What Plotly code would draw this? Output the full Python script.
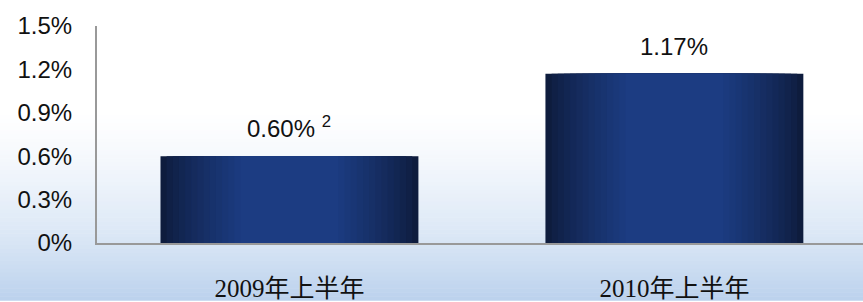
import plotly.graph_objects as go

categories = ["2009年上半年", "2010年上半年"]
values = [0.60, 1.17]
value_labels = ["0.60% <sup>2</sup>", "1.17%"]
tick_vals = [0, 0.3, 0.6, 0.9, 1.2, 1.5]
tick_text = ["0%", "0.3%", "0.6%", "0.9%", "1.2%", "1.5%"]

W, H = 863, 302
ML, MR, MT, MB = 97, 0, 26, 56

def lerp(c1, c2, t):
    return tuple(round(a + (b - a) * t) for a, b in zip(c1, c2))

def hexc(c):
    return "#%02x%02x%02x" % c

fig = go.Figure()

# bar gradient: overlaid bars of decreasing width
dark = (14, 28, 61)
light = (28, 60, 130)
n = 14
full_w = 0.67
for i in range(n):
    t = i / (n - 1)
    w = full_w * (1 - 0.62 * t)
    col = lerp(dark, light, t ** 0.8)
    fig.add_trace(go.Bar(
        x=categories, y=values, width=w,
        marker=dict(color=hexc(col), line=dict(width=0)),
        hoverinfo="skip", showlegend=False,
    ))

# background gradient strips
plot_h = H - MT - MB
plot_w = W - ML - MR
def py(p):
    return (H - MB - p) / plot_h

def bg_color(p):
    white = (255, 255, 255)
    mid = (216, 229, 245)
    bot = (188, 210, 237)
    if p < 110:
        return white
    if p < H - MB:
        return lerp(white, mid, ((p - 110) / (H - MB - 110)) ** 1.3)
    return lerp(mid, bot, (p - (H - MB)) / MB)

shapes = []
step = 4
for p in range(0, H, step):
    shapes.append(dict(
        type="rect", xref="paper", yref="paper",
        x0=-ML / plot_w - 0.01, x1=1.01,
        y0=py(p + step + 0.5), y1=py(p),
        fillcolor=hexc(bg_color(p + step / 2)), line=dict(width=0), layer="below",
    ))

annotations = []
for c, v, lab in zip(categories, values, value_labels):
    annotations.append(dict(
        x=c, y=v, text=lab, showarrow=False, yanchor="bottom", yshift=12,
        font=dict(family="Liberation Sans, Arial", size=24, color="#111111"),
    ))

fig.update_layout(
    width=W, height=H,
    margin=dict(l=ML, r=MR, t=MT, b=MB),
    paper_bgcolor="rgba(0,0,0,0)", plot_bgcolor="rgba(0,0,0,0)",
    barmode="overlay",
    shapes=shapes,
    annotations=annotations,
    showlegend=False,
    xaxis=dict(
        type="category", range=[-0.5, 1.49],
        showline=True, linecolor="#999999", linewidth=2,
        showgrid=False, zeroline=False,
        ticks="outside", ticklen=22, tickcolor="rgba(0,0,0,0)",
        tickfont=dict(family="Liberation Serif, Noto Sans CJK SC", size=25, color="#111111"),
    ),
    yaxis=dict(
        range=[0, 1.5], tickvals=tick_vals, ticktext=tick_text,
        showline=True, linecolor="#999999", linewidth=2,
        showgrid=False, zeroline=False,
        ticks="outside", ticklen=18, tickcolor="rgba(0,0,0,0)",
        tickfont=dict(family="Liberation Sans, Arial", size=24, color="#111111"),
    ),
)

fig.write_html(
    "out.html",
    config={"displayModeBar": False},
    post_script="document.body.style.margin='0';document.body.style.overflow='hidden';",
)
